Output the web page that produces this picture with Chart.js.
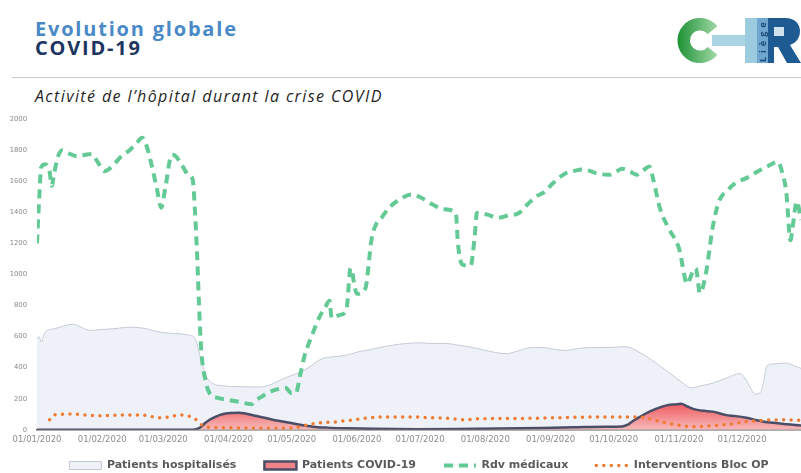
<!DOCTYPE html>
<html lang="fr">
<head>
<meta charset="utf-8">
<title>Evolution globale COVID-19</title>
<script src="https://cdn.jsdelivr.net/npm/chart.js@4.4.1/dist/chart.umd.min.js"></script>
<style>
  html, body { margin: 0; padding: 0; background: #fff; }
  body { width: 801px; height: 473px; position: relative; overflow: hidden; font-family: 'Open Sans', sans-serif; }
  .title { position: absolute; left: 35px; top: 20px; font-weight: 700; font-size: 20px; line-height: 18.5px; letter-spacing: 1.8px; }
  .title .l1 { color: #4a89c8; }
  .title .l2 { color: #1d3560; }
  .rule { position: absolute; left: 12px; right: 0; top: 77px; height: 1px; background: #c9c9c9; }
  .subtitle { position: absolute; left: 35px; top: 89px; font-style: italic; font-size: 16px; line-height: 15px; letter-spacing: 1.4px; color: #1f1f1f; }
  #logo { position: absolute; left: 670px; top: 10px; }
  #chart { position: absolute; left: 0; top: 105px; }
</style>
</head>
<body>
<div class="title"><div class="l1">Evolution globale</div><div class="l2">COVID-19</div></div>
<canvas id="logo" width="131" height="60"></canvas>
<div class="rule"></div>
<div class="subtitle">Activité de l’hôpital durant la crise COVID</div>
<canvas id="chart" width="801" height="394"></canvas>

<script>
// day of year 2020 (0 = 01/01/2020)
const monthTicks = [0, 31, 60, 91, 121, 152, 182, 213, 244, 274, 305, 335];
const monthLabels = ['01/01/2020', '01/02/2020', '01/03/2020', '01/04/2020', '01/05/2020', '01/06/2020',
    '01/07/2020', '01/08/2020', '01/09/2020', '01/10/2020', '01/11/2020', '01/12/2020'];
const yTicks = [0, 200, 400, 600, 800, 1000, 1200, 1400, 1600, 1800, 2000];

const hospDays = [0, 1, 2, 3, 4, 8, 12, 17, 21, 25, 30, 36, 44, 50, 55, 60, 66, 72, 75, 77, 79, 81, 84, 88,
    96, 105, 110, 114, 120, 125, 129, 135, 141, 147, 152, 158, 163, 169, 175, 182, 188, 194, 200, 207, 215,
    223, 229, 235, 240, 245, 251, 258, 264, 272, 280, 286, 292, 297, 301, 306, 311, 316, 321, 328, 334, 337,
    339, 341, 344, 345, 347, 351, 356, 360, 363];
const hospValues = [590, 600, 565, 600, 630, 650, 665, 680, 660, 640, 645, 650, 660, 655, 640, 625, 620, 610,
    590, 500, 400, 330, 295, 283, 278, 275, 285, 310, 345, 370, 400, 455, 470, 480, 500, 515, 530, 545, 555,
    560, 555, 556, 545, 530, 505, 490, 510, 530, 530, 520, 511, 525, 530, 530, 535, 500, 450, 400, 362, 310,
    270, 285, 300, 335, 362, 320, 270, 230, 245, 300, 415, 425, 430, 410, 395];

const covidDays = [0, 74, 76, 78, 80, 82, 85, 88, 92, 96, 100, 104, 108, 112, 116, 120, 125, 131, 138, 147,
    160, 180, 200, 220, 240, 255, 270, 278, 281, 283, 286, 291, 297, 300, 303, 306, 309, 313, 317, 321, 327,
    332, 337, 342, 346, 350, 355, 359, 363];
const covidValues = [0, 0, 5, 20, 45, 65, 85, 100, 108, 110, 102, 90, 78, 65, 55, 45, 32, 20, 14, 10,
    6, 4, 5, 8, 12, 16, 20, 22, 35, 55, 80, 117, 149, 160, 163, 167, 150, 130, 122, 117, 96,
    88, 77, 62, 50, 45, 38, 32, 28];

const rdvDays = [0, 1, 2, 4, 6, 7, 8, 10, 12, 15, 19, 23, 26, 29, 32, 36, 40, 44, 47, 50, 52, 54, 57, 59, 61,
    64, 66, 69, 72, 74, 75, 76, 77, 78, 80, 82, 86, 91, 96, 102, 104, 107, 110, 114, 118, 121, 123, 125, 127,
    131, 134, 137, 139, 140, 144, 147, 149, 152, 156, 159, 161, 164, 167, 172, 178, 183, 188, 193, 199, 200,
    202, 206, 208, 209, 214, 219, 224, 229, 233, 237, 241, 245, 251, 255, 259, 263, 266, 272, 275, 278, 282,
    285, 288, 291, 293, 296, 300, 305, 309, 311, 313, 315, 318, 321, 324, 328, 332, 337, 342, 347, 352, 354,
    356, 358, 359, 361, 363];
const rdvValues = [1200, 1480, 1690, 1710, 1660, 1570, 1640, 1760, 1800, 1780, 1760, 1770, 1775, 1720, 1665,
    1700, 1760, 1800, 1840, 1880, 1830, 1730, 1550, 1430, 1560, 1770, 1760, 1700, 1640, 1610, 1420, 1150, 800,
    520, 320, 236, 205, 192, 180, 165, 190, 215, 240, 260, 270, 235, 235, 350, 470, 620, 720, 790, 830, 720,
    740, 770, 1040, 875, 910, 1230, 1320, 1370, 1425, 1480, 1515, 1490, 1450, 1420, 1395, 1200, 1065, 1055,
    1250, 1395, 1385, 1365, 1380, 1395, 1450, 1500, 1530, 1585, 1650, 1665, 1675, 1665, 1650, 1642, 1660,
    1680, 1660, 1642, 1670, 1695, 1600, 1425, 1300, 1170, 940, 1000, 1040, 880, 1020, 1300, 1470, 1540, 1590,
    1620, 1660, 1695, 1725, 1660, 1530, 1220, 1300, 1470, 1350];

const blocDays = [6, 8, 12, 17, 22, 26, 30, 36, 42, 50, 55, 59, 63, 68, 71, 74, 76, 78, 80, 85, 95, 105, 115,
    122, 126, 131, 134, 142, 150, 158, 166, 178, 188, 196, 203, 208, 215, 225, 235, 245, 255, 265, 275, 285,
    289, 293, 297, 301, 306, 311, 317, 323, 329, 335, 341, 347, 353, 359, 363];
const blocValues = [65, 95, 100, 102, 96, 93, 90, 93, 96, 96, 83, 77, 83, 96, 90, 80, 60, 35, 20, 15, 12, 10,
    10, 13, 25, 38, 45, 51, 64, 77, 83, 83, 77, 74, 64, 70, 72, 72, 74, 77, 80, 82, 83, 83, 78, 65, 50, 38, 27,
    20, 22, 28, 36, 48, 57, 62, 64, 63, 60];

const points = (days, values) => days.map((d, i) => ({ x: d, y: values[i] }));

// CHR Liège logo
const lg = document.getElementById('logo').getContext('2d');
const cGrad = lg.createLinearGradient(8, 0, 46, 0);
cGrad.addColorStop(0, '#1f9236');
cGrad.addColorStop(1, '#9bd6a3');
lg.strokeStyle = cGrad;
lg.lineWidth = 12.5;
lg.beginPath();
lg.arc(30, 30.5, 16.3, Math.PI * 0.22, Math.PI * 1.78);
lg.stroke();
lg.fillStyle = '#a9d4e4';
lg.fillRect(42, 25, 36, 11);
lg.fillStyle = '#9ccbe0';
lg.fillRect(75, 8, 12, 45);
lg.fillStyle = '#6fa6cf';
lg.fillRect(87, 8, 11, 45);
lg.fillStyle = '#1d5b92';
lg.beginPath();
lg.moveTo(98, 8);
lg.lineTo(115, 8);
lg.bezierCurveTo(126, 8, 130, 15, 130, 21);
lg.bezierCurveTo(130, 28, 126, 33, 120, 35);
lg.lineTo(131, 53);
lg.lineTo(117, 53);
lg.lineTo(108, 37);
lg.lineTo(104, 37);
lg.lineTo(104, 53);
lg.lineTo(98, 53);
lg.closePath();
lg.fill();
lg.fillStyle = '#cfe2ee';
lg.fillRect(104, 17, 10, 9);
lg.save();
lg.translate(93, 52);
lg.rotate(-Math.PI / 2);
lg.fillStyle = '#1b4a78';
lg.font = 'bold 9px "Open Sans"';
lg.letterSpacing = '4px';
lg.textBaseline = 'middle';
lg.fillText('Liège', 0, 0.5);
lg.restore();

// pull the legend up, close under the axis labels
const legendPlacement = {
    id: 'legendPlacement',
    afterLayout(chart) {
        chart.legend.top -= 18;
    }
};

const ctx = document.getElementById('chart').getContext('2d');

const chart = new Chart(ctx, {
    type: 'line',
    data: {
        datasets: [{
            label: 'Patients hospitalisés',
            data: points(hospDays, hospValues),
            borderColor: '#c6cbd6',
            borderWidth: 1,
            backgroundColor: '#eef1f8',
            fill: 'origin',
            cubicInterpolationMode: 'monotone',
            order: 4
        }, {
            label: 'Patients COVID-19',
            data: points(covidDays, covidValues),
            borderColor: '#4a4e66',
            borderWidth: 2.5,
            backgroundColor: (c) => {
                const area = c.chart.chartArea;
                if (!area) return '#f07b7e';
                const y = c.chart.scales.y;
                const g = c.chart.ctx.createLinearGradient(0, y.getPixelForValue(170), 0, y.getPixelForValue(0));
                g.addColorStop(0, '#ee5a60');
                g.addColorStop(1, '#f8b9b9');
                return g;
            },
            fill: 'origin',
            cubicInterpolationMode: 'monotone',
            order: 3
        }, {
            label: 'Rdv médicaux',
            data: points(rdvDays, rdvValues),
            borderColor: '#63c995',
            borderWidth: 4,
            borderDash: [9, 6],
            fill: false,
            cubicInterpolationMode: 'monotone',
            order: 1
        }, {
            label: 'Interventions Bloc OP',
            data: points(blocDays, blocValues),
            borderColor: '#ee7b31',
            borderWidth: 3.5,
            borderDash: [0, 7.5],
            borderCapStyle: 'round',
            fill: false,
            cubicInterpolationMode: 'monotone',
            order: 2
        }]
    },
    options: {
        responsive: false,
        animation: false,
        layout: { padding: { top: 12, right: 0, bottom: 0, left: 0 } },
        elements: { point: { radius: 0 } },
        scales: {
            x: {
                type: 'linear',
                min: 0,
                max: 363,
                grid: { display: false, drawTicks: false },
                border: { color: '#5f5f5f', width: 1.5 },
                afterBuildTicks: (scale) => {
                    scale.ticks = monthTicks.map(v => ({ value: v }));
                },
                ticks: {
                    callback: (value) => monthLabels[monthTicks.indexOf(value)],
                    autoSkip: false,
                    maxRotation: 0,
                    padding: 5,
                    color: '#8c8c8c',
                    font: { family: 'DejaVu Sans', size: 8.5 }
                }
            },
            y: {
                min: 0,
                max: 2000,
                afterFit: (scale) => { scale.width = 37; },
                afterBuildTicks: (scale) => {
                    scale.ticks = yTicks.map(v => ({ value: v }));
                },
                grid: { display: false, drawTicks: false },
                border: { display: false },
                ticks: {
                    callback: (value) => String(value),
                    padding: 10,
                    color: '#8c8c8c',
                    font: { family: 'DejaVu Sans', size: 6.8 }
                }
            }
        },
        plugins: {
            tooltip: { enabled: false },
            legend: {
                position: 'bottom',
                align: 'center',
                fullSize: false,
                labels: {
                    usePointStyle: true,
                    pointStyleWidth: 32,
                    boxHeight: 8,
                    padding: 28,
                    color: '#5a5a5a',
                    font: { family: 'DejaVu Sans', size: 11, weight: 'bold' },
                    generateLabels: () => [
                        { text: 'Patients hospitalisés', pointStyle: 'rect', fillStyle: '#eef1f8', strokeStyle: '#c2c7d3', lineWidth: 1, fontColor: '#5a5a5a', datasetIndex: 0 },
                        { text: 'Patients COVID-19', pointStyle: 'rect', fillStyle: '#f08388', strokeStyle: '#4a4e66', lineWidth: 2.5, fontColor: '#5a5a5a', datasetIndex: 1 },
                        { text: 'Rdv médicaux', pointStyle: 'line', fillStyle: '#63c995', strokeStyle: '#63c995', lineWidth: 4, lineDash: [9, 6], fontColor: '#5a5a5a', datasetIndex: 2 },
                        { text: 'Interventions Bloc OP', pointStyle: 'line', fillStyle: '#ee7b31', strokeStyle: '#ee7b31', lineWidth: 3.5, lineDash: [0, 7.5], lineCap: 'round', fontColor: '#5a5a5a', datasetIndex: 3 }
                    ]
                }
            }
        }
    },
    plugins: [legendPlacement]
});
</script>
</body>
</html>
